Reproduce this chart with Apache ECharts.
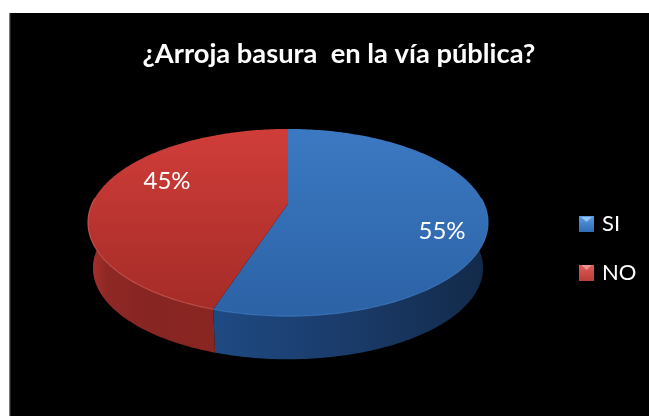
<!DOCTYPE html>
<html>
<head>
<meta charset="utf-8">
<title>¿Arroja basura en la vía pública?</title>
<style>
  html, body { margin: 0; padding: 0; background: #fff; }
  #chart { width: 649px; height: 416px; }
</style>
<script src="https://cdn.jsdelivr.net/npm/echarts@6/dist/echarts.min.js"></script>
</head>
<body>
<div id="chart"></div>
<script>
const titleText = '¿Arroja basura  en la vía pública?';
const categories = ['SI', 'NO'];
const percentages = [55, 45];

// Disc projection: a homography keeps the rim elliptical while pushing the
// hub up the screen, so the near half of the disc looks larger.
const disc = { cx: 288, hubY: 203.8, a: 196, b: 89.8, k: 0.2, depth: 46, baseScale: 0.975 };

// Wall gradients run from the slice boundary (offset 0) to the outer end (offset 1).
const palette = [
  {
    top: ['#3b79c2', '#2c62a6'], rim: '#3f7fc8',
    wall: [[0, '#1e4a82'], [0.45, '#1b3c6c'], [1, '#122a48']],
    swatch: ['#5a9be4', '#2f6cb4'], glint: '#a8d0f4'
  },
  {
    top: ['#d03d39', '#a32b27'], rim: '#d2605a',
    wall: [[0, '#8a2622'], [0.5, '#862522'], [0.85, '#8e2825'], [1, '#ab302c']],
    swatch: ['#e25a56', '#b83e3a'], glint: '#f0a09c'
  }
];

const labelCentres = [[442, 231], [167, 181]];
const swatchTops = [216, 264];

function project(turn, radius, lower) {
  const angle = turn * 2 * Math.PI;
  const u = Math.sin(angle) * radius;
  const v = Math.cos(angle) * radius;
  const w = 1 + disc.k * v;
  const s = lower ? disc.baseScale : 1;
  const y0 = disc.hubY + (lower ? disc.depth : 0);
  return [disc.cx + s * disc.a * u / w, y0 - s * disc.b * v / w];
}

function arcPoints(from, to, lower) {
  const pts = [];
  const steps = Math.max(2, Math.ceil((to - from) * 360));
  for (let i = 0; i <= steps; i++) {
    pts.push(project(from + (to - from) * i / steps, 1, lower));
  }
  return pts;
}

const total = percentages.reduce((sum, p) => sum + p, 0);

function sliceRenderer(index) {
  const startShare = percentages.slice(0, index).reduce((sum, p) => sum + p, 0) / total;
  const endShare = startShare + percentages[index] / total;
  const colours = palette[index];

  return function () {
    const children = [];

    // The outer wall only shows on the near side of the disc.
    const wallFrom = Math.max(startShare, 0.24);
    const wallTo = Math.min(endShare, 0.76);
    if (wallTo > wallFrom) {
      const upper = arcPoints(wallFrom, wallTo, false);
      const lower = arcPoints(wallFrom, wallTo, true).reverse();
      const xs = upper.map(p => p[0]);
      const boundaryX = index === 0 ? Math.min.apply(null, xs) : Math.max.apply(null, xs);
      const outerX = index === 0 ? Math.max.apply(null, xs) : Math.min.apply(null, xs);
      children.push({
        type: 'polygon',
        shape: { points: upper.concat(lower) },
        style: {
          fill: {
            type: 'linear', global: true, x: boundaryX, y: 0, x2: outerX, y2: 0,
            colorStops: colours.wall.map(s => ({ offset: s[0], color: s[1] }))
          }
        }
      });
    }

    // Top face of the slice.
    const rimPoints = arcPoints(startShare, endShare, false);
    children.push({
      type: 'polygon',
      shape: { points: [project(0, 0, false)].concat(rimPoints) },
      style: {
        fill: {
          type: 'linear', global: true, x: 0, y: 129, x2: 0, y2: 316,
          colorStops: [
            { offset: 0, color: colours.top[0] },
            { offset: 1, color: colours.top[1] }
          ]
        }
      }
    });

    // Thin highlight where the top face meets the wall.
    if (wallTo > wallFrom) {
      children.push({
        type: 'polyline',
        shape: { points: arcPoints(wallFrom, wallTo, false) },
        style: { fill: 'none', stroke: colours.rim, lineWidth: 1.2, opacity: 0.7 }
      });
    }

    children.push({
      type: 'text',
      style: {
        x: labelCentres[index][0], y: labelCentres[index][1],
        text: percentages[index] + '%',
        fill: '#ffffff', font: '24px Lato',
        align: 'center', verticalAlign: 'middle'
      }
    });

    return { type: 'group', children: children };
  };
}

const chart = echarts.init(document.getElementById('chart'), null, { renderer: 'canvas' });

chart.setOption({
  animation: false,
  backgroundColor: '#ffffff',
  title: {
    text: titleText,
    left: 334, top: 36,
    textAlign: 'center',
    textStyle: { color: '#ffffff', fontFamily: 'Lato', fontWeight: 'bold', fontSize: 27.3 }
  },
  legend: {
    orient: 'vertical',
    left: 574, top: 208,
    icon: 'rect',
    itemWidth: 15, itemHeight: 16, itemGap: 27,
    textStyle: { color: '#ffffff', fontFamily: 'Lato', fontSize: 22, padding: [0, 0, 0, 3] },
    data: categories.map((name, i) => ({
      name: name,
      itemStyle: {
        color: {
          type: 'linear', x: 0, y: 0, x2: 0, y2: 1,
          colorStops: [
            { offset: 0, color: palette[i].swatch[0] },
            { offset: 1, color: palette[i].swatch[1] }
          ]
        }
      }
    }))
  },
  graphic: [
    {
      type: 'rect', silent: true, z: -10,
      shape: { x: 9, y: 13, width: 640, height: 403 },
      style: { fill: '#000000' }
    },
    {
      type: 'rect', silent: true, z: -9,
      shape: { x: 9, y: 13, width: 1.3, height: 403 },
      style: { fill: '#777777' }
    }
  ].concat(swatchTops.map((top, i) => ({
    // Small glint along the top edge of each legend swatch.
    type: 'polygon', silent: true, z: 100,
    shape: { points: [[581, top + 1], [592, top + 1], [586.5, top + 6]] },
    style: { fill: palette[i].glint, opacity: 0.8 }
  }))),
  series: categories.map((name, i) => ({
    type: 'custom',
    name: name,
    coordinateSystem: 'none',
    itemStyle: { color: palette[i].swatch[1] },
    silent: true,
    data: [percentages[i]],
    renderItem: sliceRenderer(i)
  }))
});
</script>
</body>
</html>
